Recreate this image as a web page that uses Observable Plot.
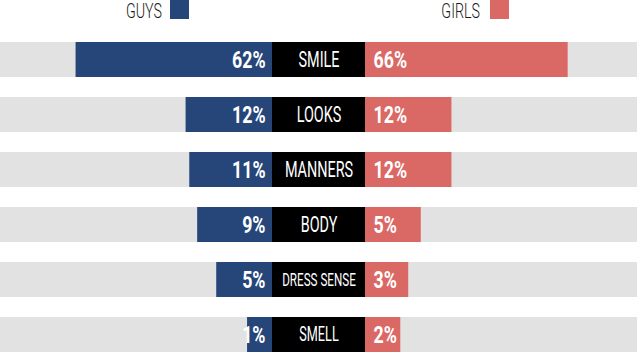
<!DOCTYPE html>
<html>
<head>
<meta charset="utf-8">
<script src="https://cdn.jsdelivr.net/npm/d3@7"></script>
<script src="https://cdn.jsdelivr.net/npm/@observablehq/plot@0.6"></script>
<style>
  html, body { margin: 0; padding: 0; background: #fff; }
  #wrap { width: 637px; position: relative; font-family: Roboto, sans-serif; }
  svg { display: block; }
</style>
</head>
<body>
<div id="wrap">
  <div id="legend"></div>
  <div id="chart"></div>
</div>
<script>
// ---- data ----
const categories = ["SMILE", "LOOKS", "MANNERS", "BODY", "DRESS SENSE", "SMELL"];
const guys  = [62, 12, 11, 9, 5, 1];
const girls = [66, 12, 12, 5, 3, 2];
const seriesNames = ["GUYS", "GIRLS"];

// ---- styles ----
const colors = {GUYS: "#26467a", GIRLS: "#da6865"};
const gray = "#e2e2e2";
const labelScale = {"DRESS SENSE": 0.81, "SMELL": 0.88};
const half = 46.5;       // half width of the centre label box (px)
const D = 163;            // symmetric x domain extent

const rows = categories.map((c, i) => ({cat: c, guys: guys[i], girls: girls[i]}));

function condenseText(t, f) {
  const w = t.getComputedTextLength();
  if (w > 0) {
    t.setAttribute("textLength", (w * f).toFixed(2));
    t.setAttribute("lengthAdjust", "spacingAndGlyphs");
  }
}

// legend (small svg above the chart)
const legendPos = {GUYS: {textRight: 162, sw: 170}, GIRLS: {textRight: 480, sw: 490}};
const lsvg = d3.select("#legend").append("svg")
  .attr("width", 637).attr("height", 40)
  .style("font-family", "Roboto, sans-serif");
for (const s of seriesNames) {
  lsvg.append("text")
    .attr("x", legendPos[s].textRight).attr("y", 18)
    .attr("text-anchor", "end")
    .attr("font-size", 21).attr("font-weight", 300).attr("fill", "#1a1a1a")
    .text(s);
  lsvg.append("rect")
    .attr("x", legendPos[s].sw).attr("y", 0)
    .attr("width", 19).attr("height", 19)
    .attr("fill", colors[s]);
}
lsvg.selectAll("text").each(function() { condenseText(this, 0.68); });

const chart = Plot.plot({
  width: 637,
  height: 313,
  marginTop: 0, marginBottom: 0, marginLeft: 0, marginRight: 0,
  style: {fontFamily: "Roboto, sans-serif", background: "white"},
  x: {type: "pow", exponent: 0.5, domain: [-D, D], axis: null},
  y: {domain: categories, paddingInner: 0.37, paddingOuter: 0, axis: null},
  marks: [
    Plot.barX(categories, {y: d => d, x1: -D, x2: D, fill: gray}),
    Plot.barX(rows, {y: "cat", x1: 0, x2: d => -d.guys, dx: -half, fill: colors.GUYS}),
    Plot.barX(rows, {y: "cat", x1: 0, x2: d => d.girls, dx: half, fill: colors.GIRLS}),
    Plot.barX(categories, {y: d => d, x1: 0, x2: 0, insetLeft: -half, insetRight: -half, fill: "black"}),
    Plot.text(rows, {y: "cat", x: 0, dx: -half - 7, text: d => d.guys + "%",
      textAnchor: "end", fill: "white", fontWeight: "bold", fontSize: 24}),
    Plot.text(rows, {y: "cat", x: 0, dx: half + 8, text: d => d.girls + "%",
      textAnchor: "start", fill: "white", fontWeight: "bold", fontSize: 24}),
    Plot.text(rows, {y: "cat", x: 0, text: "cat", textAnchor: "middle",
      fill: "white", fontWeight: "normal", fontSize: d => 22.5 * (labelScale[d.cat] || 1)})
  ]
});
document.getElementById("chart").appendChild(chart);

// condense text horizontally (narrow display face look)
chart.querySelectorAll("text").forEach(t => {
  const g = t.parentNode;
  const fw = (g.getAttribute("font-weight") || t.getAttribute("font-weight") || "");
  condenseText(t, fw === "bold" ? 0.74 : 0.64);
});
</script>
</body>
</html>
